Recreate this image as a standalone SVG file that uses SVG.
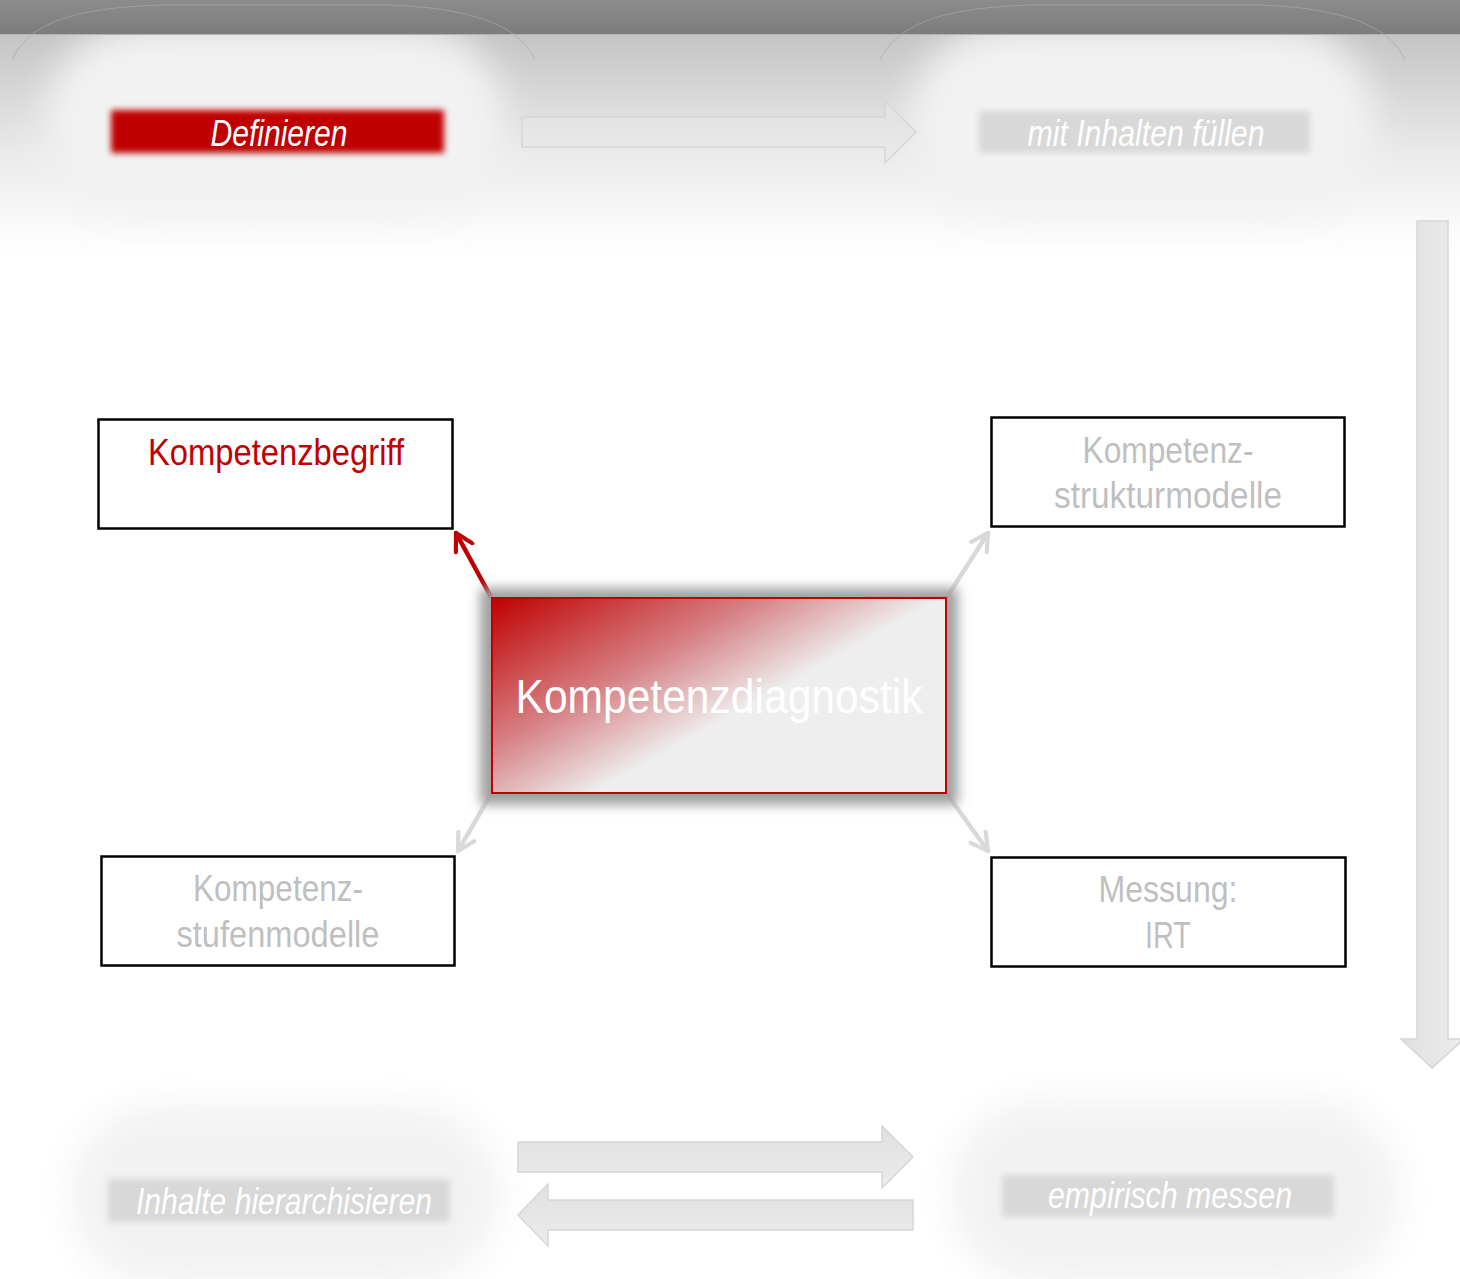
<svg xmlns="http://www.w3.org/2000/svg" width="1460" height="1279" viewBox="0 0 1460 1279">
<style>
.nar{font-family:"Liberation Sans",Arial,sans-serif;}
.lbl{font-size:36px;font-style:italic;fill:#ffffff;text-anchor:middle;}
.box{fill:#ffffff;stroke:#000000;stroke-width:2.5;}
.bt{font-size:36px;text-anchor:middle;fill:#bfbfbf;}
.garr{fill:url(#ga);stroke:#d6d6d6;stroke-width:1.5;}
.con{stroke-width:4.5;fill:none;stroke-linecap:round;stroke-linejoin:round;}
</style>
<defs>
<linearGradient id="bar" x1="0" y1="0" x2="0" y2="1">
<stop offset="0" stop-color="#8c8c8c"/><stop offset="1" stop-color="#7c7c7c"/>
</linearGradient>
<linearGradient id="topg" x1="0" y1="0" x2="0" y2="1">
<stop offset="0" stop-color="#c4c4c4"/><stop offset="0.55" stop-color="#ebebeb"/><stop offset="1" stop-color="#ffffff"/>
</linearGradient>
<linearGradient id="ga" x1="0" y1="0" x2="0" y2="1">
<stop offset="0" stop-color="#e0e0e0"/><stop offset="1" stop-color="#ececec"/>
</linearGradient>
<linearGradient id="gav" x1="0" y1="0" x2="1" y2="0">
<stop offset="0" stop-color="#e0e0e0"/><stop offset="1" stop-color="#ececec"/>
</linearGradient>
<linearGradient id="center" x1="492" y1="598" x2="650" y2="880" gradientUnits="userSpaceOnUse">
<stop offset="0" stop-color="#c00000"/><stop offset="0.4" stop-color="#d67f83"/><stop offset="0.68" stop-color="#eeeeee"/><stop offset="1" stop-color="#eeeeee"/>
</linearGradient>
<filter id="blur30" x="-30%" y="-30%" width="160%" height="160%"><feGaussianBlur stdDeviation="18"/></filter>
<filter id="blur3" x="-10%" y="-30%" width="120%" height="160%"><feGaussianBlur stdDeviation="3"/></filter>
<filter id="sh" x="-20%" y="-30%" width="140%" height="160%"><feGaussianBlur stdDeviation="6"/></filter>
<marker id="mr" viewBox="0 0 12 12" refX="10" refY="6" markerWidth="5" markerHeight="5" orient="auto" markerUnits="strokeWidth">
<path d="M1,1 L10,6 L1,11" fill="none" stroke="#c00000" stroke-width="2.2" stroke-linecap="round" stroke-linejoin="round"/>
</marker>
<marker id="mg" viewBox="0 0 12 12" refX="10" refY="6" markerWidth="5" markerHeight="5" orient="auto" markerUnits="strokeWidth">
<path d="M1,1 L10,6 L1,11" fill="none" stroke="#d9d9d9" stroke-width="2.2" stroke-linecap="round" stroke-linejoin="round"/>
</marker>
</defs>

<rect x="0" y="0" width="1460" height="1279" fill="#ffffff"/>
<rect x="0" y="34" width="1460" height="220" fill="url(#topg)"/>

<g id="background-shapes">
<rect x="45" y="25" width="460" height="190" rx="95" fill="#f2f2f2" filter="url(#blur30)"/>
<rect x="910" y="25" width="465" height="190" rx="95" fill="#f2f2f2" filter="url(#blur30)"/>
<rect x="70" y="1105" width="430" height="180" rx="90" fill="#f2f2f2" filter="url(#blur30)"/>
<rect x="950" y="1100" width="450" height="185" rx="92" fill="#f2f2f2" filter="url(#blur30)"/>
</g>

<rect x="0" y="0" width="1460" height="34" fill="url(#bar)"/>
<line x1="0" y1="34.5" x2="1460" y2="34.5" stroke="#b4b4b4" stroke-width="1"/>
<g fill="none" stroke="#a8a8a8" stroke-width="1" opacity="0.7">
<path d="M12,60 C30,20 80,8 160,5 L390,5 C470,8 520,25 535,60"/>
<path d="M880,60 C900,20 950,8 1030,5 L1260,5 C1340,8 1390,25 1405,60"/>
</g>

<g id="node-definieren">
<rect x="111" y="110" width="333" height="43" fill="#c00000" filter="url(#blur3)"/>
<text class="nar lbl" x="279" y="146" textLength="137" lengthAdjust="spacingAndGlyphs">Definieren</text>
</g>

<g id="node-mit-inhalten-fuellen">
<rect x="979" y="111" width="331" height="42" fill="#d8d8d8" filter="url(#blur3)"/>
<text class="nar lbl" x="1146" y="146" textLength="237" lengthAdjust="spacingAndGlyphs">mit Inhalten füllen</text>
</g>

<g id="node-inhalte-hierarchisieren">
<rect x="108" y="1179" width="342" height="43" fill="#d8d8d8" filter="url(#blur3)"/>
<text class="nar lbl" x="284" y="1214" textLength="296" lengthAdjust="spacingAndGlyphs">Inhalte hierarchisieren</text>
</g>

<g id="node-empirisch-messen">
<rect x="1002" y="1175" width="332" height="42" fill="#d8d8d8" filter="url(#blur3)"/>
<text class="nar lbl" x="1170" y="1208" textLength="244" lengthAdjust="spacingAndGlyphs">empirisch messen</text>
</g>

<g id="process-arrows">
<path class="garr" d="M522,117 L885,117 L885,101 L916,132 L885,163 L885,147 L522,147 Z"/>
<path d="M1417,221 L1448,221 L1448,1039 L1464,1039 L1432,1068 L1401,1039 L1417,1039 Z" fill="url(#gav)" stroke="#d6d6d6" stroke-width="1.5"/>
<path class="garr" d="M518,1142 L882,1142 L882,1126 L913,1157 L882,1188 L882,1172 L518,1172 Z"/>
<path class="garr" d="M913,1200 L548,1200 L548,1184 L518,1215 L548,1246 L548,1230 L913,1230 Z"/>
</g>

<g id="node-kompetenzbegriff">
<rect class="box" x="98.5" y="419.5" width="354" height="109"/>
<text class="nar bt" x="276" y="465" style="fill:#c00000" textLength="256" lengthAdjust="spacingAndGlyphs">Kompetenzbegriff</text>
</g>

<g id="node-kompetenzstrukturmodelle">
<rect class="box" x="991.5" y="417.5" width="353" height="109"/>
<text class="nar bt" x="1168" y="463" textLength="171" lengthAdjust="spacingAndGlyphs">Kompetenz-</text>
<text class="nar bt" x="1168" y="508" textLength="228" lengthAdjust="spacingAndGlyphs">strukturmodelle</text>
</g>

<g id="node-kompetenzstufenmodelle">
<rect class="box" x="101.5" y="856.5" width="353" height="109"/>
<text class="nar bt" x="278" y="901" textLength="170" lengthAdjust="spacingAndGlyphs">Kompetenz-</text>
<text class="nar bt" x="278" y="947" textLength="203" lengthAdjust="spacingAndGlyphs">stufenmodelle</text>
</g>

<g id="node-messung-irt">
<rect class="box" x="991.5" y="857.5" width="354" height="109"/>
<text class="nar bt" x="1168" y="902" textLength="139" lengthAdjust="spacingAndGlyphs">Messung:</text>
<text class="nar bt" x="1168" y="948" textLength="46" lengthAdjust="spacingAndGlyphs">IRT</text>
</g>

<g id="connectors">
<line class="con" x1="491" y1="597" x2="456" y2="533" stroke="#c00000" marker-end="url(#mr)"/>
<line class="con" x1="947" y1="597" x2="988" y2="533" stroke="#d9d9d9" marker-end="url(#mg)"/>
<line class="con" x1="491" y1="794" x2="458" y2="851" stroke="#d9d9d9" marker-end="url(#mg)"/>
<line class="con" x1="947" y1="794" x2="988" y2="851" stroke="#d9d9d9" marker-end="url(#mg)"/>
</g>

<g id="node-kompetenzdiagnostik">
<rect x="480" y="588" width="478" height="217" fill="#a0a0a0" filter="url(#sh)"/>
<rect x="492" y="598" width="454" height="195" fill="url(#center)" stroke="#c00000" stroke-width="2"/>
<text class="nar" x="719" y="713" font-size="48" fill="#ffffff" text-anchor="middle" textLength="407" lengthAdjust="spacingAndGlyphs">Kompetenzdiagnostik</text>
</g>
</svg>
